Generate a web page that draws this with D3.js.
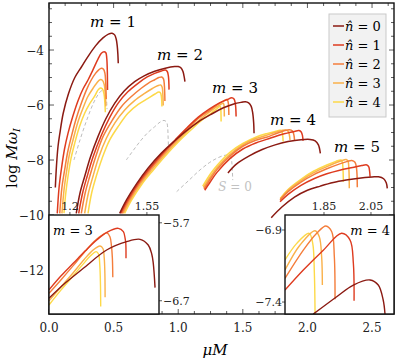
<!DOCTYPE html>
<html><head><meta charset="utf-8">
<script src="https://cdn.jsdelivr.net/npm/d3@7"></script>
<style>body{margin:0;background:#fff} svg{display:block}</style>
</head><body><svg id="c" width="399" height="362" font-family="'DejaVu Serif', serif"></svg>
<script>
// ---------- data (μM, log Mω_I) ----------
const nLabels = [0, 1, 2, 3, 4];
const colors = ['#8b1a12', '#de3b1f', '#f47d3b', '#fab14a', '#fdd948'];
const mLabels = [1, 2, 3, 4, 5];
const xTicks = [0, 0.5, 1, 1.5, 2, 2.5];
const yTicks = [-12, -10, -8, -6, -4];

const m1 = [
  [[0.049,-9.0],[0.058,-8.2],[0.07,-7.5],[0.085,-7.0],[0.11,-6.3],[0.15,-5.6],[0.2,-5.0],[0.253,-4.6],[0.3,-4.25],[0.36,-3.85],[0.42,-3.55],[0.46,-3.42],[0.488,-3.39],[0.508,-3.45],[0.52,-3.6],[0.528,-3.85],[0.533,-4.15],[0.536,-4.48]],
  [[0.064,-9.94],[0.078,-9.0],[0.095,-8.36],[0.12,-7.6],[0.147,-7.03],[0.185,-6.4],[0.224,-5.85],[0.265,-5.4],[0.302,-5.09],[0.34,-4.72],[0.38,-4.32],[0.405,-4.12],[0.426,-4.06],[0.44,-4.1],[0.447,-4.3],[0.451,-4.7],[0.453,-5.45]],
  [[0.083,-9.94],[0.1,-9.0],[0.121,-8.36],[0.145,-7.7],[0.173,-7.15],[0.21,-6.5],[0.25,-5.94],[0.29,-5.45],[0.327,-5.09],[0.36,-4.85],[0.385,-4.72],[0.405,-4.66],[0.422,-4.7],[0.433,-4.85],[0.439,-5.2],[0.443,-5.78]],
  [[0.1,-9.94],[0.116,-9.1],[0.134,-8.48],[0.158,-7.8],[0.186,-7.27],[0.225,-6.6],[0.263,-6.12],[0.3,-5.7],[0.341,-5.39],[0.37,-5.2],[0.395,-5.08],[0.413,-5.1],[0.427,-5.25],[0.435,-5.55],[0.44,-6.05]],
  [[0.116,-9.93],[0.13,-9.2],[0.147,-8.6],[0.17,-7.95],[0.199,-7.39],[0.235,-6.8],[0.276,-6.3],[0.315,-5.95],[0.353,-5.68],[0.38,-5.45],[0.398,-5.38],[0.414,-5.42],[0.426,-5.6],[0.432,-5.9],[0.436,-6.26]]
];
const m2 = [
  [[0.211,-9.94],[0.24,-9.2],[0.276,-8.6],[0.32,-7.9],[0.379,-7.15],[0.44,-6.5],[0.508,-5.94],[0.58,-5.5],[0.663,-5.15],[0.74,-4.93],[0.818,-4.77],[0.9,-4.66],[0.973,-4.6],[1.0,-4.6],[1.024,-4.66],[1.038,-4.8],[1.046,-4.97],[1.052,-5.15]],
  [[0.23,-9.94],[0.26,-9.2],[0.295,-8.6],[0.34,-7.9],[0.405,-7.1],[0.47,-6.45],[0.534,-5.94],[0.61,-5.52],[0.689,-5.21],[0.76,-4.98],[0.818,-4.85],[0.87,-4.76],[0.9,-4.73],[0.915,-4.78],[0.924,-4.95],[0.929,-5.44]],
  [[0.25,-9.94],[0.28,-9.2],[0.315,-8.6],[0.36,-7.9],[0.418,-7.15],[0.49,-6.55],[0.56,-6.06],[0.64,-5.68],[0.714,-5.39],[0.77,-5.2],[0.818,-5.08],[0.85,-5.0],[0.872,-4.98],[0.886,-5.05],[0.893,-5.3],[0.897,-5.85]],
  [[0.276,-9.94],[0.305,-9.2],[0.34,-8.6],[0.385,-7.9],[0.444,-7.21],[0.51,-6.65],[0.586,-6.18],[0.66,-5.85],[0.74,-5.58],[0.8,-5.4],[0.84,-5.3],[0.865,-5.27],[0.876,-5.35],[0.881,-5.6],[0.884,-6.02]],
  [[0.302,-9.94],[0.33,-9.2],[0.365,-8.6],[0.41,-7.95],[0.47,-7.27],[0.54,-6.75],[0.611,-6.3],[0.69,-5.98],[0.766,-5.76],[0.82,-5.6],[0.85,-5.53],[0.862,-5.55],[0.87,-5.7],[0.874,-6.05]]
];
const m3 = [
  [[0.547,-9.94],[0.6,-9.45],[0.68,-8.85],[0.766,-8.3],[0.87,-7.75],[0.973,-7.3],[1.06,-6.95],[1.153,-6.62],[1.25,-6.35],[1.35,-6.1],[1.43,-5.96],[1.49,-5.9],[1.52,-5.88],[1.545,-5.92],[1.565,-6.05],[1.577,-6.3],[1.584,-6.65],[1.587,-7.03]],
  [[0.555,-9.94],[0.61,-9.45],[0.69,-8.85],[0.776,-8.32],[0.88,-7.75],[0.98,-7.25],[1.07,-6.82],[1.153,-6.45],[1.24,-6.15],[1.32,-5.92],[1.38,-5.8],[1.414,-5.74],[1.432,-5.78],[1.442,-5.95],[1.446,-6.15],[1.448,-6.42]],
  [[0.565,-9.94],[0.62,-9.45],[0.7,-8.85],[0.786,-8.33],[0.89,-7.76],[0.99,-7.26],[1.08,-6.83],[1.16,-6.47],[1.24,-6.2],[1.31,-5.97],[1.355,-5.84],[1.378,-5.8],[1.386,-5.88],[1.39,-6.05],[1.392,-6.36]],
  [[0.575,-9.94],[0.63,-9.45],[0.71,-8.86],[0.796,-8.35],[0.9,-7.78],[1.0,-7.28],[1.09,-6.86],[1.17,-6.52],[1.24,-6.26],[1.3,-6.06],[1.335,-5.96],[1.349,-5.93],[1.354,-6.0],[1.356,-6.15],[1.357,-6.42]],
  [[0.585,-9.94],[0.64,-9.45],[0.72,-8.87],[0.806,-8.37],[0.91,-7.8],[1.01,-7.3],[1.1,-6.9],[1.18,-6.56],[1.24,-6.35],[1.29,-6.17],[1.315,-6.07],[1.324,-6.04],[1.329,-6.12],[1.331,-6.3],[1.332,-6.6]]
];
const m4 = [
  [[1.385,-8.47],[1.45,-8.15],[1.55,-7.85],[1.65,-7.62],[1.75,-7.45],[1.85,-7.33],[1.95,-7.26],[2.02,-7.25],[2.06,-7.3],[2.085,-7.45],[2.1,-7.76]],
  [[1.205,-9.1],[1.25,-8.78],[1.3,-8.45],[1.4,-7.95],[1.5,-7.6],[1.6,-7.38],[1.684,-7.25],[1.8,-7.07],[1.9,-6.96],[1.935,-6.93],[1.952,-6.98],[1.962,-7.12],[1.966,-7.3]],
  [[1.2,-9.05],[1.25,-8.68],[1.3,-8.35],[1.4,-7.86],[1.5,-7.5],[1.6,-7.28],[1.684,-7.17],[1.78,-7.0],[1.86,-6.9],[1.885,-6.95],[1.895,-7.08],[1.9,-7.27]],
  [[1.195,-9.0],[1.25,-8.6],[1.3,-8.28],[1.4,-7.8],[1.5,-7.45],[1.6,-7.22],[1.684,-7.1],[1.76,-6.98],[1.83,-6.91],[1.85,-6.95],[1.86,-7.08],[1.865,-7.27]],
  [[1.19,-8.95],[1.25,-8.5],[1.3,-8.2],[1.4,-7.72],[1.5,-7.4],[1.6,-7.17],[1.684,-7.04],[1.75,-6.96],[1.79,-6.92],[1.803,-6.98],[1.809,-7.12],[1.812,-7.33]]
];
const m5 = [
  [[1.72,-10.1],[1.8,-9.72],[1.9,-9.35],[2.0,-9.1],[2.1,-8.95],[2.2,-8.82],[2.3,-8.73],[2.4,-8.66],[2.5,-8.62],[2.55,-8.61],[2.59,-8.68],[2.61,-8.83],[2.618,-9.03]],
  [[1.788,-9.52],[1.85,-9.25],[1.95,-8.92],[2.05,-8.68],[2.15,-8.5],[2.25,-8.37],[2.35,-8.27],[2.42,-8.2],[2.46,-8.18],[2.474,-8.24],[2.481,-8.4],[2.485,-8.61]],
  [[1.788,-9.45],[1.85,-9.15],[1.95,-8.8],[2.05,-8.53],[2.15,-8.32],[2.25,-8.14],[2.31,-8.05],[2.343,-8.02],[2.368,-8.08],[2.38,-8.3],[2.386,-8.99]],
  [[1.79,-9.42],[1.85,-9.1],[1.95,-8.75],[2.05,-8.46],[2.15,-8.24],[2.23,-8.08],[2.28,-8.0],[2.3,-7.98],[2.314,-8.04],[2.321,-8.35],[2.324,-9.03]],
  [[1.79,-9.4],[1.85,-9.07],[1.95,-8.7],[2.05,-8.4],[2.15,-8.18],[2.22,-8.05],[2.26,-8.0],[2.27,-8.08],[2.275,-8.3],[2.278,-8.79]]
];
const s0m1 = [[0.193,-8.0],[0.24,-7.27],[0.292,-6.55],[0.343,-5.94],[0.38,-5.62],[0.41,-5.47],[0.43,-5.47],[0.441,-5.6],[0.446,-5.85],[0.449,-6.15]];
const s0m2 = [[0.598,-8.0],[0.66,-7.6],[0.714,-7.27],[0.77,-6.98],[0.818,-6.79],[0.86,-6.62],[0.89,-6.56],[0.91,-6.62],[0.918,-6.8],[0.922,-7.2],[0.926,-7.7]];
const s0m3 = [[0.988,-9.15],[1.08,-8.75],[1.169,-8.36],[1.24,-8.1],[1.298,-7.94],[1.35,-7.84],[1.388,-7.82],[1.405,-7.86],[1.414,-8.05],[1.419,-8.4],[1.422,-8.73]];

// inset data
const insetM3 = [
  [[1.105,-6.668],[1.18,-6.47],[1.261,-6.284],[1.367,-6.049],[1.458,-5.942],[1.519,-5.912],[1.556,-5.985],[1.572,-6.1],[1.579,-6.22],[1.587,-6.532]],
  [[1.105,-6.56],[1.16,-6.38],[1.215,-6.22],[1.27,-6.06],[1.322,-5.92],[1.37,-5.82],[1.42,-5.771],[1.443,-5.814],[1.451,-5.9],[1.454,-5.963],[1.455,-6.155]],
  [[1.105,-6.604],[1.16,-6.43],[1.215,-6.25],[1.265,-6.08],[1.31,-5.94],[1.35,-5.85],[1.368,-5.83],[1.382,-5.88],[1.389,-6.0],[1.393,-6.15],[1.395,-6.399]],
  [[1.105,-6.70],[1.16,-6.52],[1.215,-6.34],[1.265,-6.17],[1.305,-6.05],[1.337,-5.997],[1.35,-6.03],[1.356,-6.15],[1.359,-6.35],[1.36,-6.655]],
  [[1.105,-6.754],[1.16,-6.56],[1.215,-6.38],[1.26,-6.23],[1.295,-6.12],[1.319,-6.07],[1.33,-6.1],[1.336,-6.25],[1.339,-6.5],[1.34,-6.775]]
];
const insetM4 = [
  [[1.804,-7.484],[1.904,-7.363],[1.975,-7.282],[2.046,-7.247],[2.081,-7.282],[2.102,-7.386],[2.11,-7.49]],
  [[1.684,-7.317],[1.762,-7.178],[1.847,-7.04],[1.925,-6.923],[1.961,-6.97],[1.975,-7.131],[1.978,-7.391]],
  [[1.684,-7.236],[1.762,-7.04],[1.819,-6.923],[1.858,-6.872],[1.883,-6.912],[1.894,-7.086],[1.897,-7.381]],
  [[1.684,-7.178],[1.748,-7.004],[1.812,-6.905],[1.83,-6.947],[1.84,-7.085],[1.843,-7.282]],
  [[1.684,-7.108],[1.734,-6.993],[1.787,-6.923],[1.802,-6.993],[1.809,-7.2],[1.812,-7.49]]
];
const inset1XTicks = [1.2, 1.55], inset1YTicks = [-5.7, -6.7];
const inset2XTicks = [1.85, 2.05], inset2YTicks = [-6.9, -7.4];

// ---------- drawing ----------
const FONT = "'DejaVu Serif', 'Liberation Serif', serif";
const svg = d3.select('#c');
const L = 49, R = 394, T = 3, B = 314;
const x = d3.scaleLinear().domain([0, 2.67]).range([L, R]);
const y = d3.scaleLinear().domain([-13.6, -2.29]).range([B, T]);
const defs = svg.append('defs');
function clip(id, x0, y0, w, h) {
  defs.append('clipPath').attr('id', id).append('rect').attr('x', x0).attr('y', y0).attr('width', w).attr('height', h);
}
clip('cMain', L, T, R - L, B - T);

function drawSeries(g, xs, ys, series, width) {
  const line = d3.line().x(d => xs(d[0])).y(d => ys(d[1])).curve(d3.curveCatmullRom.alpha(0.5));
  for (let i = series.length - 1; i >= 0; i--) {
    g.append('path').attr('d', line(series[i])).attr('fill', 'none')
      .attr('stroke', colors[i]).attr('stroke-width', width).attr('stroke-linejoin', 'round');
  }
}
function drawDashed(g, xs, ys, data) {
  const line = d3.line().x(d => xs(d[0])).y(d => ys(d[1])).curve(d3.curveCatmullRom.alpha(0.5));
  g.append('path').attr('d', line(data)).attr('fill', 'none').attr('stroke', '#bdbdbd')
    .attr('stroke-width', 1).attr('stroke-dasharray', '3.5,2.5');
}
function txt(g) { return g.append('text').attr('font-family', FONT); }

const plot = svg.append('g').attr('clip-path', 'url(#cMain)');
[s0m1, s0m2, s0m3].forEach(d => drawDashed(plot, x, y, d));
[m1, m2, m3, m4, m5].forEach(s => drawSeries(plot, x, y, s, 1.5));

// main ticks
const tk = svg.append('g').attr('stroke', '#333').attr('stroke-width', 0.8);
for (let v = 0; v <= 2.67; v += 0.125) {
  const major = Math.abs(v / 0.5 - Math.round(v / 0.5)) < 1e-6;
  const len = major ? 5 : 3;
  tk.append('line').attr('x1', x(v)).attr('x2', x(v)).attr('y1', B).attr('y2', B - len);
  tk.append('line').attr('x1', x(v)).attr('x2', x(v)).attr('y1', T).attr('y2', T + len);
}
for (let v = -13.5; v <= -2.3; v += 0.5) {
  const major = Math.abs(v / 2 - Math.round(v / 2)) < 1e-6;
  const len = major ? 5 : 3;
  tk.append('line').attr('y1', y(v)).attr('y2', y(v)).attr('x1', L).attr('x2', L + len);
  tk.append('line').attr('y1', y(v)).attr('y2', y(v)).attr('x1', R).attr('x2', R - len);
}
svg.append('rect').attr('x', L).attr('y', T).attr('width', R - L).attr('height', B - T)
  .attr('fill', 'none').attr('stroke', '#111').attr('stroke-width', 1.4);

const fmt1 = d3.format('.1f'), fmt0 = d3.format('d');
svg.append('g').attr('font-family', FONT).selectAll('text').data(xTicks).join('text')
  .attr('x', d => x(d)).attr('y', 332).attr('text-anchor', 'middle').attr('font-size', 12).attr('fill', '#222')
  .text(d => fmt1(d));
svg.append('g').attr('font-family', FONT).selectAll('text').data(yTicks).join('text')
  .attr('x', 44).attr('y', d => y(d) + 4.5).attr('text-anchor', 'end').attr('font-size', 12).attr('fill', '#222')
  .text(d => fmt0(d));

// axis labels
txt(svg).attr('x', 215).attr('y', 355).attr('text-anchor', 'middle').attr('font-size', 15).attr('font-style', 'italic').text('μM');
const yl = txt(svg).attr('transform', 'translate(17,158) rotate(-90)').attr('text-anchor', 'middle').attr('font-size', 15);
yl.append('tspan').text('log ');
yl.append('tspan').attr('font-style', 'italic').text('Mω');
yl.append('tspan').attr('font-style', 'italic').attr('font-size', 10).attr('dy', 3).text('I');

// m labels
const mPos = [[113, 27], [180, 60], [235, 93], [293, 125], [357, 152]];
mLabels.forEach((m, i) => {
  const t = txt(svg).attr('x', mPos[i][0]).attr('y', mPos[i][1]).attr('text-anchor', 'middle').attr('font-size', 15);
  t.append('tspan').attr('font-style', 'italic').text('m');
  t.append('tspan').text(' = ' + m);
});
const st = txt(svg).attr('x', 235).attr('y', 191).attr('text-anchor', 'middle').attr('font-size', 12).attr('fill', '#c2c2c2');
st.append('tspan').attr('font-style', 'italic').text('S');
st.append('tspan').text(' = 0');

// legend
const lg = svg.append('g');
lg.append('rect').attr('x', 329).attr('y', 14).attr('width', 57).attr('height', 103)
  .attr('fill', '#f2f2f2').attr('stroke', '#c9c9c9').attr('stroke-width', 1);
nLabels.forEach((n, i) => {
  const yy = 26 + i * 19;
  lg.append('line').attr('x1', 333).attr('x2', 344).attr('y1', yy).attr('y2', yy).attr('stroke', colors[i]).attr('stroke-width', 1.5);
  const t = txt(lg).attr('x', 345).attr('y', yy + 4.5).attr('font-size', 13);
  t.append('tspan').attr('font-style', 'italic').text('n\u0302');
  t.append('tspan').text(' = ' + n);
});

// insets
function inset(id, x0, x1, y0, y1, xd, yd, series, xt, yt, yOnRight, label, labelX, labelAnchor) {
  const xs = d3.scaleLinear().domain(xd).range([x0, x1]);
  const ys = d3.scaleLinear().domain(yd).range([y1, y0]);
  svg.append('rect').attr('x', x0).attr('y', y0).attr('width', x1 - x0).attr('height', y1 - y0).attr('fill', '#fff');
  clip(id, x0, y0, x1 - x0, y1 - y0);
  const g = svg.append('g').attr('clip-path', `url(#${id})`);
  drawSeries(g, xs, ys, series, 1.4);
  const t = svg.append('g').attr('stroke', '#333').attr('stroke-width', 0.8);
  xt.forEach(v => t.append('line').attr('x1', xs(v)).attr('x2', xs(v)).attr('y1', y0).attr('y2', y0 - 3));
  yt.forEach(v => {
    const xx = yOnRight ? x1 : x0;
    t.append('line').attr('x1', xx).attr('x2', yOnRight ? xx + 3 : xx - 3).attr('y1', ys(v)).attr('y2', ys(v));
  });
  svg.append('rect').attr('x', x0).attr('y', y0).attr('width', x1 - x0).attr('height', y1 - y0)
    .attr('fill', 'none').attr('stroke', '#111').attr('stroke-width', 1.4);
  svg.append('g').attr('font-family', FONT).selectAll('text').data(xt).join('text')
    .attr('x', d => xs(d)).attr('y', y0 - 5).attr('text-anchor', 'middle').attr('font-size', 11).attr('fill', '#222')
    .text(d => String(d));
  svg.append('g').attr('font-family', FONT).selectAll('text').data(yt).join('text')
    .attr('x', yOnRight ? x1 + 4 : x0 - 3).attr('y', d => ys(d) + 4).attr('text-anchor', yOnRight ? 'start' : 'end')
    .attr('font-size', 11).attr('fill', '#222').text(d => d3.format('.1f')(d));
  const lt = txt(svg).attr('x', labelX).attr('y', y0 + 20).attr('text-anchor', labelAnchor).attr('font-size', 13);
  lt.append('tspan').attr('font-style', 'italic').text('m');
  lt.append('tspan').text(' = ' + label);
}
inset('cIn1', 49, 159, 215, 314, [1.105, 1.605], [-6.87, -5.6], insetM3, inset1XTicks, inset1YTicks, true, 3, 53, 'start');
inset('cIn2', 285, 394, 215, 314, [1.684, 2.148], [-7.483, -6.796], insetM4, inset2XTicks, inset2YTicks, false, 4, 390, 'end');
</script>
</body></html>
